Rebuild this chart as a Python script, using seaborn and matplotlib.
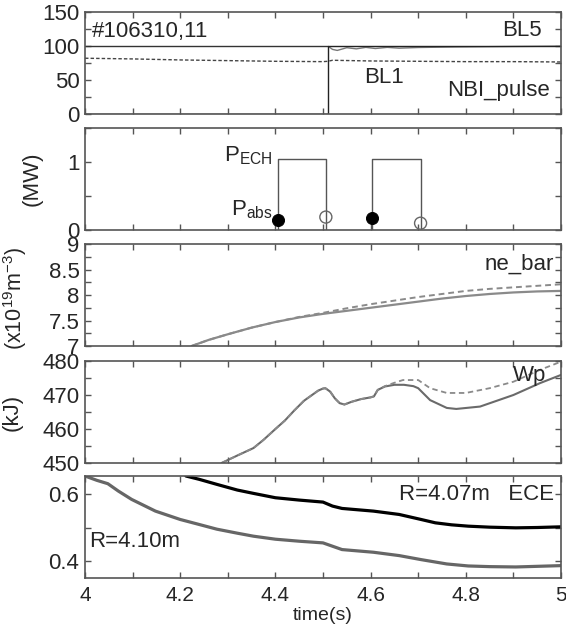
import numpy as np
import pandas as pd
import matplotlib
matplotlib.use("Agg")
import matplotlib.pyplot as plt
from matplotlib.ticker import MultipleLocator
import seaborn as sns

# ---------------- data ----------------
# Panel 1: NBI
bl5_t = [4.0, 4.51]
bl5_v = [100, 100]
bl5w_t = [4.512, 4.52, 4.53, 4.55, 4.57, 4.59, 4.61, 4.635, 4.66, 4.70, 4.78, 4.9, 5.0]
bl5w_v = [99, 95, 93.5, 97.5, 95.8, 98, 96.3, 98, 96.8, 97.8, 98.6, 99.3, 99.8]
bl1_t = [4.0, 4.1, 4.2, 4.3, 4.4, 4.5, 4.51, 4.52, 4.6, 4.7, 4.8, 4.9, 5.0]
bl1_v = [82, 81, 79.5, 78.5, 77.5, 77, 77.5, 79, 78, 77.5, 77, 77, 76.5]
nbi_t = [4.0, 4.51, 4.51, 5.0]
nbi_v = [0, 0, 100, 100]

# Panel 2: ECH
ech1_t = [4.405, 4.405, 4.506, 4.506]
ech1_v = [0, 1.04, 1.04, 0]
ech2_t = [4.603, 4.603, 4.705, 4.705]
ech2_v = [0, 1.04, 1.04, 0]
pabs_on_t = [4.405, 4.603]
pabs_on_v = [0.15, 0.17]
pabs_off_t = [4.506, 4.705]
pabs_off_v = [0.19, 0.10]

# Panel 3: ne_bar
ne_t = [4.224, 4.26, 4.30, 4.35, 4.40, 4.45, 4.50, 4.55, 4.60, 4.65, 4.70, 4.75,
        4.80, 4.85, 4.90, 4.95, 5.0]
ne_solid = [7.0, 7.12, 7.23, 7.36, 7.47, 7.56, 7.63, 7.69, 7.75, 7.81, 7.87, 7.93,
            7.98, 8.02, 8.05, 8.07, 8.08]
ne_dash = [7.0, 7.12, 7.23, 7.36, 7.47, 7.57, 7.65, 7.74, 7.82, 7.89, 7.96, 8.02,
           8.08, 8.12, 8.15, 8.18, 8.21]

# Panel 4: Wp
wp_t = [4.287, 4.32, 4.354, 4.375, 4.40, 4.42, 4.44, 4.46, 4.48, 4.49, 4.50, 4.505,
        4.515, 4.525, 4.535, 4.545, 4.56, 4.58, 4.60, 4.607, 4.615, 4.63, 4.65,
        4.67, 4.69, 4.70, 4.725, 4.76, 4.78, 4.83, 4.90, 4.956, 5.0]
wp_solid = [450, 452.2, 454.4, 456.8, 460, 462.5, 465.5, 468.3, 470.3, 471.3, 471.9, 472,
            471, 469, 467.6, 467.2, 468.0, 468.8, 469.3, 469.6, 471.5, 472.5, 473.0,
            473.0, 472.6, 472.0, 468.5, 466.2, 465.9, 466.6, 470.0, 473.5, 475.9]
wpd_t = [4.287, 4.32, 4.354, 4.375, 4.40, 4.42, 4.44, 4.46, 4.48, 4.49, 4.50, 4.505,
         4.515, 4.525, 4.535, 4.545, 4.56, 4.58, 4.60, 4.607, 4.615, 4.63, 4.65,
         4.668, 4.70, 4.725, 4.76, 4.80, 4.85, 4.90, 4.956, 5.0]
wp_dash = [450, 452.2, 454.4, 456.8, 460, 462.5, 465.5, 468.3, 470.3, 471.3, 471.9, 472,
           471, 469, 467.6, 467.2, 468.0, 468.8, 469.3, 469.6, 471.5, 472.6, 473.6,
           474.4, 474.4, 472.0, 470.6, 470.6, 472.0, 473.9, 477.4, 479.8]

# Panel 5: ECE
ece407_t = [4.212, 4.24, 4.277, 4.32, 4.354, 4.40, 4.45, 4.50, 4.52, 4.54, 4.606, 4.66,
            4.706, 4.736, 4.77, 4.805, 4.85, 4.905, 4.95, 5.0]
ece407_v = [0.655, 0.645, 0.63, 0.613, 0.603, 0.59, 0.583, 0.577, 0.565, 0.558, 0.55, 0.54,
            0.525, 0.515, 0.509, 0.505, 0.502, 0.50, 0.501, 0.503]
ece410_t = [4.0, 4.025, 4.048, 4.07, 4.098, 4.148, 4.20, 4.24, 4.277, 4.32, 4.354, 4.40,
            4.45, 4.50, 4.52, 4.54, 4.606, 4.66, 4.706, 4.76, 4.805, 4.85, 4.905, 5.0]
ece410_v = [0.655, 0.642, 0.632, 0.61, 0.585, 0.55, 0.525, 0.51, 0.496, 0.484, 0.475, 0.466,
            0.46, 0.455, 0.445, 0.435, 0.427, 0.417, 0.405, 0.392, 0.386, 0.384, 0.383, 0.387]

xticks = [4, 4.2, 4.4, 4.6, 4.8, 5]
xticklabels = ["4", "4.2", "4.4", "4.6", "4.8", "5"]

# ---------------- style ----------------
sns.set_theme(style="ticks")
plt.rcParams['font.family'] = ['Liberation Sans', 'DejaVu Sans']
plt.rcParams['mathtext.fontset'] = 'custom'
plt.rcParams['mathtext.rm'] = 'Liberation Sans'
plt.rcParams['mathtext.it'] = 'Liberation Sans'

FS = 16
fig = plt.figure(figsize=(5.66, 6.3), dpi=100)
W, H = 566, 630
left, right = 85, 561
tops = [12, 128, 244, 361, 476]
ph = 102
axes = []
for tp in tops:
    ax = fig.add_axes([left / W, 1 - (tp + ph) / H, (right - left) / W, ph / H])
    axes.append(ax)

def line(ax, t, v, **kw):
    sns.lineplot(x=t, y=v, ax=ax, estimator=None, sort=False, **kw)

GRAY = '#8a8a8a'
# Panel 1
ax = axes[0]
line(ax, bl5_t, bl5_v, color='#333333', lw=1.0)
line(ax, bl5w_t, bl5w_v, color='#777777', lw=1.0)
line(ax, nbi_t, nbi_v, color='#222222', lw=1.0)
line(ax, bl1_t, bl1_v, color='#444444', lw=1.0, linestyle=(0, (2.5, 1.5)))
ax.set_ylim(0, 150)
ax.yaxis.set_major_locator(MultipleLocator(50))
ax.yaxis.set_minor_locator(MultipleLocator(25))
ax.text(4.0147, 120.6, "#106310,11", fontsize=FS, va='center', ha='left')
ax.text(4.96, 123.5, "BL5", fontsize=FS, va='center', ha='right')
ax.text(4.628, 54, "BL1", fontsize=FS, va='center', ha='center')
ax.text(4.977, 35, "NBI_pulse", fontsize=FS, va='center', ha='right')

# Panel 2
ax = axes[1]
line(ax, ech1_t, ech1_v, color='#555555', lw=1.0)
line(ax, ech2_t, ech2_v, color='#555555', lw=1.0)
sns.scatterplot(x=pabs_on_t, y=pabs_on_v, ax=ax, s=75, color='black', edgecolor='black',
                zorder=5, clip_on=False)
sns.scatterplot(x=pabs_off_t, y=pabs_off_v, ax=ax, s=75, facecolor='none', edgecolor='#666666',
                linewidth=1.0, zorder=5, clip_on=False)
ax.set_ylim(0, 1.5)
ax.yaxis.set_major_locator(MultipleLocator(1))
ax.yaxis.set_minor_locator(MultipleLocator(0.5))
ax.set_ylabel("(MW)", fontsize=FS)
ax.yaxis.set_label_coords(-0.088, 0.5)
ax.text(4.395, 1.1, r"$\mathregular{P_{ECH}}$", fontsize=FS, va='center', ha='right')
ax.text(4.395, 0.3, r"$\mathregular{P_{abs}}$", fontsize=FS, va='center', ha='right')

# Panel 3
ax = axes[2]
line(ax, ne_t, ne_solid, color=GRAY, lw=1.6)
line(ax, ne_t, ne_dash, color=GRAY, lw=1.4, linestyle=(0, (3, 2)))
ax.set_ylim(7, 9)
ax.set_yticks([7, 7.5, 8, 8.5, 9])
ax.set_yticklabels(["7", "7.5", "8", "8.5", "9"])
ax.yaxis.set_minor_locator(MultipleLocator(0.25))
ax.set_ylabel(r"(x10$^{\mathregular{19}}$m$^{\mathregular{-3}}$)", fontsize=FS - 0.5)
ax.yaxis.set_label_coords(-0.118, 0.47)
ax.text(4.985, 8.6, "ne_bar", fontsize=FS, va='center', ha='right')

# Panel 4
ax = axes[3]
line(ax, wp_t, wp_solid, color='#6a6a6a', lw=1.5)
line(ax, wpd_t, wp_dash, color=GRAY, lw=1.3, linestyle=(0, (3, 2)))
ax.set_ylim(450, 480)
ax.yaxis.set_major_locator(MultipleLocator(10))
ax.yaxis.set_minor_locator(MultipleLocator(5))
ax.set_ylabel("(kJ)", fontsize=FS)
ax.yaxis.set_label_coords(-0.13, 0.5)
ax.text(4.933, 475.6, "Wp", fontsize=FS, va='center', ha='center')

# Panel 5
ax = axes[4]
line(ax, ece407_t, ece407_v, color='black', lw=2.3)
line(ax, ece410_t, ece410_v, color='#666666', lw=2.3)
ax.set_ylim(0.35, 0.655)
ax.set_yticks([0.4, 0.6])
ax.set_yticklabels(["0.4", "0.6"])
ax.yaxis.set_minor_locator(MultipleLocator(0.1))
ax.text(4.985, 0.6, "R=4.07m   ECE", fontsize=FS, va='center', ha='right')
ax.text(4.008, 0.46, "R=4.10m", fontsize=FS, va='center', ha='left')

for i, ax in enumerate(axes):
    ax.set_xlim(4, 5)
    ax.set_xticks(xticks)
    ax.xaxis.set_minor_locator(MultipleLocator(0.1))
    if i == 4:
        ax.set_xticklabels(xticklabels)
    else:
        ax.set_xticklabels([])
    ax.tick_params(which='both', direction='in', top=True, right=True,
                   length=4, width=1.0, color='#555555', labelsize=FS)
    ax.tick_params(axis='y', pad=4)
    ax.tick_params(axis='x', pad=6, labelsize=15)
    for s in ax.spines.values():
        s.set_color('#555555')
        s.set_linewidth(1.2)
    if i != 4:
        ax.set_xlabel("")

axes[4].set_xlabel("time(s)", fontsize=14, labelpad=1)

fig.savefig("out.png", dpi=100)
